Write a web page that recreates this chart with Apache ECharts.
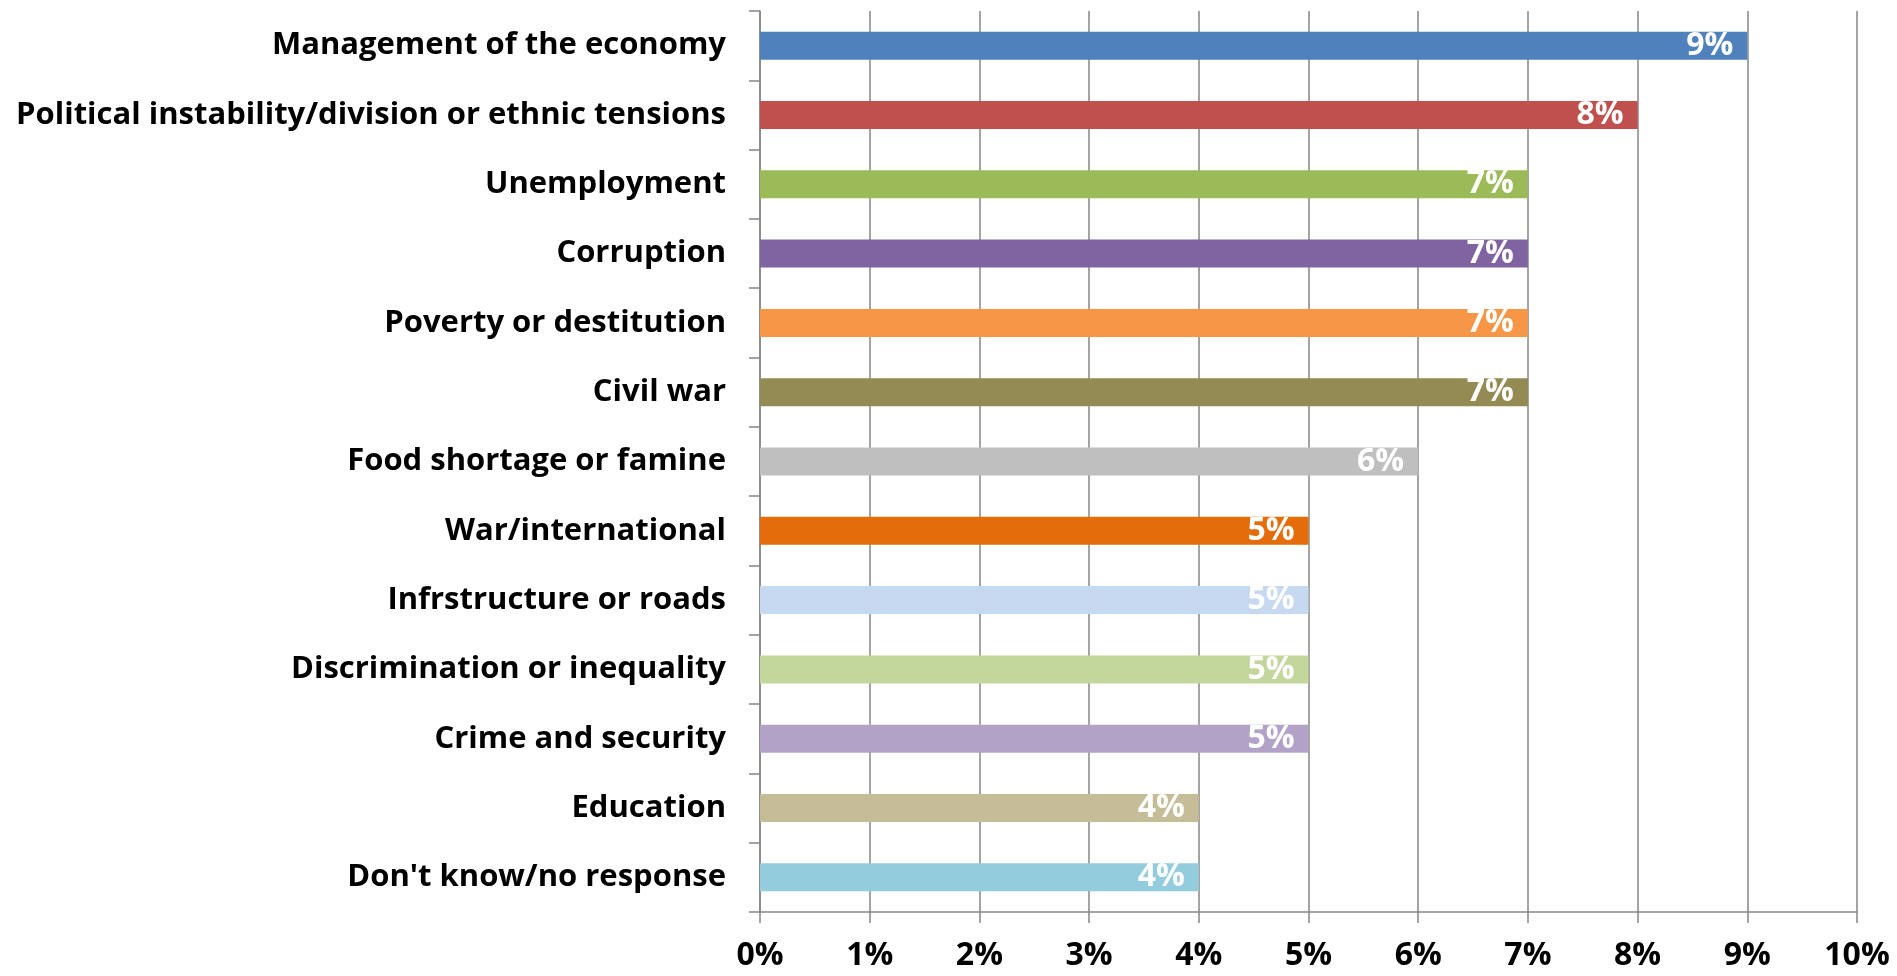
<!DOCTYPE html>
<html>
<head>
<meta charset="utf-8">
<script src="https://cdn.jsdelivr.net/npm/echarts@6/dist/echarts.min.js"></script>
<style>
    html, body { margin: 0; padding: 0; background: #fff; }
    #chart { width: 1897px; height: 976px; }
</style>
</head>
<body>
<div id="chart"></div>
<script>
// categories, top to bottom
const categories = [
    'Management of the economy',
    'Political instability/division or ethnic tensions',
    'Unemployment',
    'Corruption',
    'Poverty or destitution',
    'Civil war',
    'Food shortage or famine',
    'War/international',
    'Infrstructure or roads',
    'Discrimination or inequality',
    'Crime and security',
    'Education',
    "Don't know/no response"
];
// percent values
const values = [9, 8, 7, 7, 7, 7, 6, 5, 5, 5, 5, 4, 4];
// x axis ticks
const xMin = 0;
const xMax = 10;
const xStep = 1;

const chart = echarts.init(document.getElementById('chart'));

chart.setOption({
    animation: false,
    color: ['#4F81BD', '#C0504D', '#9BBB59', '#8064A2', '#F79646', '#948A54', '#BFBFBF',
            '#E46C0A', '#C6D9F1', '#C3D69B', '#B3A2C7', '#C4BD97', '#93CDDD'],
    textStyle: {
        fontFamily: 'Open Sans'
    },
    grid: {
        left: 760,
        right: 40,
        top: 11,
        bottom: 64
    },
    xAxis: {
        type: 'value',
        min: xMin,
        max: xMax,
        interval: xStep,
        axisLine: {
            show: true,
            lineStyle: { color: '#868686', width: 1.5 }
        },
        axisTick: {
            show: true,
            length: 11,
            lineStyle: { color: '#868686', width: 1.5 }
        },
        splitLine: {
            show: true,
            lineStyle: { color: '#868686', width: 1.5 }
        },
        axisLabel: {
            formatter: '{value}%',
            color: '#000',
            fontWeight: 'bold',
            fontSize: 32,
            fontFamily: 'Open Sans',
            margin: 28
        }
    },
    yAxis: {
        type: 'category',
        inverse: true,
        data: categories,
        axisLine: {
            show: true,
            lineStyle: { color: '#868686', width: 1.5 }
        },
        axisTick: {
            show: true,
            length: 11,
            lineStyle: { color: '#868686', width: 1.5 }
        },
        axisLabel: {
            color: '#000',
            fontWeight: 'bold',
            fontSize: 31,
            fontFamily: 'Open Sans',
            margin: 34
        }
    },
    series: [
        {
            type: 'bar',
            colorBy: 'data',
            barWidth: 28,
            data: values,
            label: {
                show: true,
                position: 'insideRight',
                offset: [-9, 0],
                formatter: '{c}%',
                color: '#fff',
                fontWeight: 'bold',
                fontSize: 32,
                fontFamily: 'Open Sans'
            }
        }
    ]
});

window.addEventListener('resize', function () {
    chart.resize();
});
</script>
</body>
</html>
